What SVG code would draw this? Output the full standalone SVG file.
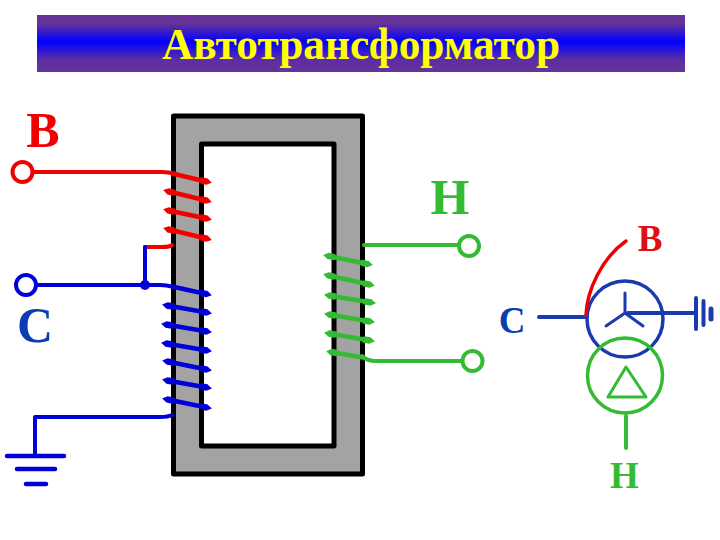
<svg xmlns="http://www.w3.org/2000/svg" width="720" height="540" viewBox="0 0 720 540">
<defs>
<linearGradient id="bar" x1="0" y1="0" x2="0" y2="1">
<stop offset="0" stop-color="#663399"/><stop offset="0.15" stop-color="#663399"/><stop offset="0.47" stop-color="#0000ff"/><stop offset="0.78" stop-color="#5c2da6"/><stop offset="1" stop-color="#663399"/>
</linearGradient>
<marker id="tr" markerUnits="userSpaceOnUse" markerWidth="16" markerHeight="10" refX="8" refY="5" orient="auto"><path d="M0 5L5 1.800H11L16 5L11 8.200H5Z" fill="#f00000"/></marker>
<marker id="tb" markerUnits="userSpaceOnUse" markerWidth="16" markerHeight="10" refX="8" refY="5" orient="auto"><path d="M0 5L5 1.800H11L16 5L11 8.200H5Z" fill="#0000d8"/></marker>
<marker id="tg" markerUnits="userSpaceOnUse" markerWidth="16" markerHeight="10" refX="8" refY="5" orient="auto"><path d="M0 5L5 1.800H11L16 5L11 8.200H5Z" fill="#33bb33"/></marker>
</defs>
<style>
text{font-family:"Liberation Serif","Times New Roman",serif;font-weight:bold}
.r{fill:none;stroke:#f00000;stroke-linecap:round;stroke-linejoin:round}
.b{fill:none;stroke:#0000d8;stroke-linecap:round;stroke-linejoin:round}
.g{fill:none;stroke:#33bb33;stroke-linecap:round;stroke-linejoin:round}
.n{fill:none;stroke:#1a3ab0;stroke-linecap:round;stroke-linejoin:round}
.w{stroke-width:4}
.c{stroke-width:4.500}
</style>
<rect x="37" y="15" width="648" height="57" fill="url(#bar)"/>
<text x="361" y="58.500" font-size="44" fill="#ffff00" text-anchor="middle" textLength="398" lengthAdjust="spacingAndGlyphs">Автотрансформатор</text>
<g id="core"><path fill-rule="evenodd" d="M173.500 116H362.500V474H173.500ZM201.500 144V446H334V144Z" fill="#a3a3a3" stroke="#000" stroke-width="5" stroke-linejoin="round"/></g>
<g id="connectors">
<path class="r w" d="M32 172H162Q168 172 176 174"/>
<path class="r c" d="M172 173.500L204 181" marker-end="url(#tr)"/>
<path class="r c" d="M171 192L204 200" marker-start="url(#tr)" marker-end="url(#tr)"/>
<path class="r c" d="M171 211L204 218" marker-start="url(#tr)" marker-end="url(#tr)"/>
<path class="r c" d="M171 230L204 238" marker-start="url(#tr)" marker-end="url(#tr)"/>
<path class="r w" d="M145 247H162Q170 247 172 245"/>
<path class="b w" d="M145 247V285"/>
<path class="b w" d="M32 285H160Q166 285 174 287"/>
<circle cx="145" cy="285" r="5" fill="#0000d8"/>
<path class="b c" d="M172 286.500L204 293.500" marker-end="url(#tb)"/>
<path class="b c" d="M170 306L204 312" marker-start="url(#tb)" marker-end="url(#tb)"/>
<path class="b c" d="M169 325L204 331" marker-start="url(#tb)" marker-end="url(#tb)"/>
<path class="b c" d="M169 344L204 350" marker-start="url(#tb)" marker-end="url(#tb)"/>
<path class="b c" d="M170 362L204 369" marker-start="url(#tb)" marker-end="url(#tb)"/>
<path class="b c" d="M170 381L204 387" marker-start="url(#tb)" marker-end="url(#tb)"/>
<path class="b c" d="M170 400L204 407" marker-start="url(#tb)" marker-end="url(#tb)"/>
<path class="b w" d="M35 455V417H160Q168 417 172 415"/>
<path class="b" stroke-width="4.500" d="M7 456H64M17 469H55M26 484H46"/>
<path class="g w" d="M364 245H458"/>
<path class="g w" d="M362 356Q367 361 376 361H462"/>
<path class="g c" d="M331 256.500L365 263.500" marker-start="url(#tg)" marker-end="url(#tg)"/>
<path class="g c" d="M331 276L367 284" marker-start="url(#tg)" marker-end="url(#tg)"/>
<path class="g c" d="M332 296L368 302" marker-start="url(#tg)" marker-end="url(#tg)"/>
<path class="g c" d="M332 315L367 321" marker-start="url(#tg)" marker-end="url(#tg)"/>
<path class="g c" d="M332 334L367 340" marker-start="url(#tg)" marker-end="url(#tg)"/>
<path class="g c" d="M334 352.500L363 357.500" marker-start="url(#tg)"/>
<path class="n w" d="M539 317H587"/>
<path class="n" stroke-width="3" d="M625 293V313L606 326M625 313L643 326"/>
<path class="n w" d="M628 313H694"/>
<path class="n w" d="M696 298V329M703.500 301V325"/>
<path class="n" stroke-width="5" d="M711 309V319"/>
<path class="g" stroke-width="4" d="M626 416V448"/>
<path class="g" stroke-width="3" d="M626 367L608 397H646Z"/>
</g>
<g id="terminal-b"><circle cx="22.500" cy="172" r="10" fill="#fff" stroke="#f00000" stroke-width="4"/><text x="43" y="147" font-size="50" fill="#f00000" text-anchor="middle">В</text></g>
<g id="terminal-c"><circle cx="26" cy="285" r="10" fill="#fff" stroke="#0000d8" stroke-width="4"/><text x="35" y="342" font-size="50" fill="#0a3cb4" text-anchor="middle">С</text></g>
<g id="terminal-n1"><circle cx="469" cy="246" r="10" fill="#fff" stroke="#33bb33" stroke-width="4"/><text x="450" y="213.500" font-size="50" fill="#33bb33" text-anchor="middle">Н</text></g>
<g id="terminal-n2"><circle cx="472.500" cy="361" r="10" fill="#fff" stroke="#33bb33" stroke-width="4"/></g>
<g id="winding-top"><circle cx="625" cy="319" r="38" fill="none" stroke="#1a3ab0" stroke-width="3.500"/></g>
<g id="winding-bottom"><circle cx="625" cy="375.500" r="37.500" fill="none" stroke="#33bb33" stroke-width="3.500"/></g>
<path class="r" stroke-width="3.500" d="M586 315C587 290 602 258 626 241"/>
<g id="labels">
<text x="650" y="251" font-size="37" fill="#e01010" text-anchor="middle">В</text>
<text x="512" y="332.500" font-size="37" fill="#0a3cb4" text-anchor="middle">С</text>
<text x="624.500" y="488" font-size="37" fill="#33bb33" text-anchor="middle">Н</text>
</g>
</svg>
